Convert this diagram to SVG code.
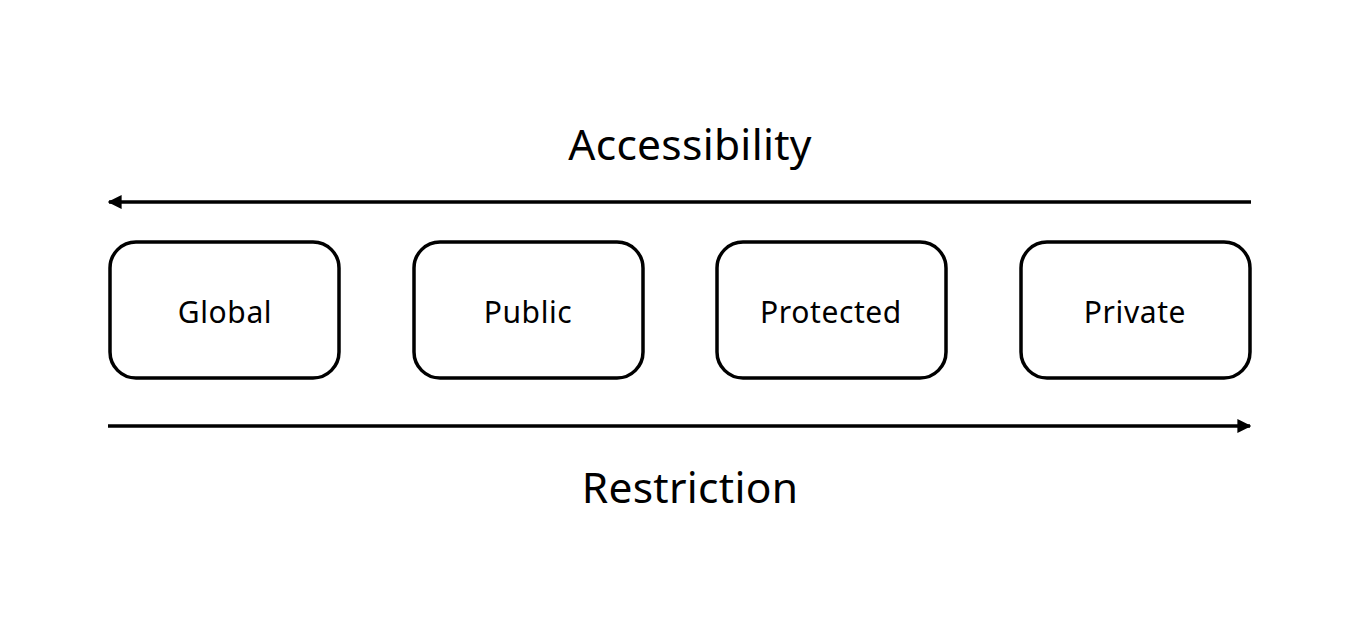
<svg xmlns="http://www.w3.org/2000/svg" width="1359" height="641" viewBox="0 0 1359 641">
<style>
.box{fill:#fff;stroke:#000;stroke-width:3.5}
.lbl{font-family:"Noto Sans",sans-serif;font-size:30px;letter-spacing:0.6px;text-anchor:middle;fill:#000}
.title{font-family:"Noto Sans",sans-serif;font-size:42.5px;letter-spacing:0.3px;text-anchor:middle;fill:#000}
.ln{stroke:#000;stroke-width:3.5;fill:none}
</style>
<defs>
<marker id="ah" viewBox="0 0 10 10" refX="9" refY="5" markerWidth="4" markerHeight="4" orient="auto" markerUnits="strokeWidth">
<path d="M0,0 L10,5 L0,10 z" fill="#000"/>
</marker>
</defs>
<rect width="1359" height="641" fill="#fff"/>
<text class="title" x="690" y="160">Accessibility</text>
<text class="title" x="690" y="503">Restriction</text>
<g id="connectors">
<line class="ln" x1="1251" y1="202" x2="109" y2="202" marker-end="url(#ah)"/>
<line class="ln" x1="108" y1="426" x2="1250" y2="426" marker-end="url(#ah)"/>
</g>
<g id="global"><rect class="box" x="110" y="242" width="229" height="136" rx="26"/><text class="lbl" x="225" y="323">Global</text></g>
<g id="public"><rect class="box" x="414" y="242" width="229" height="136" rx="26"/><text class="lbl" x="528" y="323">Public</text></g>
<g id="protected"><rect class="box" x="717" y="242" width="229" height="136" rx="26"/><text class="lbl" x="831" y="323">Protected</text></g>
<g id="private"><rect class="box" x="1021" y="242" width="229" height="136" rx="26"/><text class="lbl" x="1135" y="323">Private</text></g>
</svg>
